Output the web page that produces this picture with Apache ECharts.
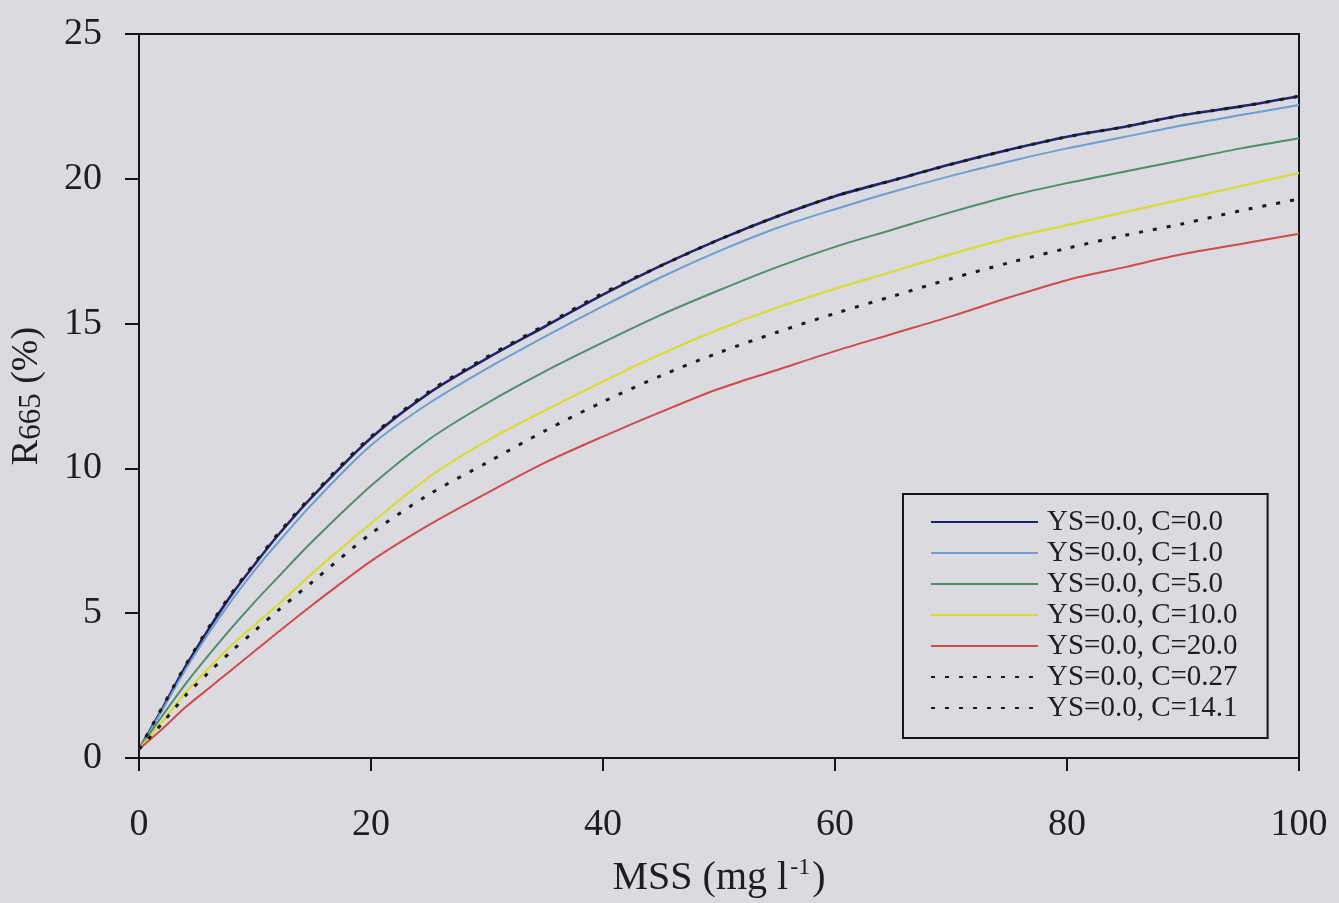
<!DOCTYPE html>
<html>
<head>
<meta charset="utf-8">
<script src="https://cdn.jsdelivr.net/npm/echarts@6/dist/echarts.min.js"></script>
<style>
html,body{margin:0;padding:0;background:#dadae0;}
#chart{width:1339px;height:903px;}
</style>
</head>
<body>
<div id="chart"></div>
<script>
// MSS (mg l-1) sample positions
const mss = [0, 2, 4, 6, 8, 10, 12, 15, 20, 25, 30, 35, 40, 45, 50, 55, 60, 65, 70, 75, 80, 85, 90, 95, 100];
// R665 (%) values
const rC00  = [0.3, 1.7, 3.15, 4.45, 5.65, 6.7, 7.7, 9.05, 11.05, 12.6, 13.8, 14.9, 16.0, 17.0, 17.9, 18.7, 19.4, 19.95, 20.5, 21.0, 21.45, 21.8, 22.2, 22.5, 22.85];
const rC10  = [0.3, 1.65, 3.05, 4.3, 5.45, 6.5, 7.45, 8.8, 10.8, 12.25, 13.45, 14.55, 15.6, 16.6, 17.5, 18.3, 18.95, 19.55, 20.1, 20.6, 21.05, 21.45, 21.85, 22.2, 22.55];
const rC50  = [0.3, 1.45, 2.55, 3.55, 4.5, 5.4, 6.25, 7.5, 9.4, 11.0, 12.25, 13.35, 14.35, 15.3, 16.15, 16.95, 17.65, 18.25, 18.85, 19.4, 19.85, 20.25, 20.65, 21.05, 21.4];
const rC100 = [0.3, 1.25, 2.25, 3.1, 3.9, 4.6, 5.3, 6.4, 8.1, 9.7, 10.95, 12.0, 13.0, 13.95, 14.8, 15.55, 16.2, 16.8, 17.4, 17.95, 18.4, 18.85, 19.3, 19.75, 20.2];
const rC200 = [0.3, 1.0, 1.75, 2.4, 3.05, 3.7, 4.35, 5.3, 6.8, 8.05, 9.15, 10.2, 11.1, 11.95, 12.75, 13.4, 14.05, 14.65, 15.25, 15.9, 16.5, 16.95, 17.4, 17.75, 18.1];
const rC027 = [0.3, 1.75, 3.2, 4.5, 5.7, 6.75, 7.75, 9.1, 11.1, 12.65, 13.85, 14.95, 16.05, 17.0, 17.9, 18.7, 19.4, 19.95, 20.5, 21.0, 21.45, 21.8, 22.2, 22.5, 22.85];
const rC141 = [0.3, 1.2, 2.15, 2.95, 3.7, 4.4, 5.1, 6.1, 7.75, 9.1, 10.2, 11.3, 12.3, 13.2, 14.0, 14.7, 15.35, 15.95, 16.55, 17.1, 17.6, 18.05, 18.45, 18.9, 19.3];

const seriesNames = ['YS=0.0, C=0.0', 'YS=0.0, C=1.0', 'YS=0.0, C=5.0', 'YS=0.0, C=10.0', 'YS=0.0, C=20.0', 'YS=0.0, C=0.27', 'YS=0.0, C=14.1'];
const xTicks = [0, 20, 40, 60, 80, 100];
const yTicks = [0, 5, 10, 15, 20, 25];

const FONT = 'Liberation Serif';
const seriesValues = [rC00, rC10, rC50, rC100, rC200, rC027, rC141];
const styles = [
  {color: '#22236b', width: 2.6, type: 'solid'},
  {color: '#6c9fd0', width: 2, type: 'solid'},
  {color: '#4f8d6c', width: 2, type: 'solid'},
  {color: '#d5dc38', width: 2.2, type: 'solid'},
  {color: '#cd4c4c', width: 2, type: 'solid'},
  {color: '#1a1a1a', width: 3, type: [4, 10]},
  {color: '#1a1a1a', width: 3, type: [4, 10]}
];

const series = seriesNames.map((name, i) => ({
  name: name,
  type: 'line',
  symbol: 'none',
  smooth: 0.3,
  animation: false,
  lineStyle: styles[i],
  itemStyle: {color: styles[i].color},
  data: mss.map((x, j) => [x, seriesValues[i][j]])
}));

const chart = echarts.init(document.getElementById('chart'), null, {renderer: 'canvas'});
chart.setOption({
  backgroundColor: '#dadae0',
  animation: false,
  grid: {
    left: 139, right: 40, top: 34, bottom: 145,
    show: true, borderColor: '#151515', borderWidth: 2,
    backgroundColor: 'transparent',
    outerBoundsMode: 'none'
  },
  legend: {
    data: seriesNames,
    orient: 'vertical',
    left: 903, top: 494,
    padding: [13, 30, 15, 27],
    borderColor: '#151515', borderWidth: 2,
    backgroundColor: 'transparent',
    itemWidth: 107, itemHeight: 12, itemGap: 1,
    itemStyle: {opacity: 0},
    textStyle: {fontFamily: FONT, fontSize: 29, color: '#1e1e1e', lineHeight: 30, padding: [0, 0, 0, 4]}
  },
  xAxis: {
    type: 'value',
    min: xTicks[0], max: xTicks[xTicks.length - 1], interval: xTicks[1] - xTicks[0],
    splitLine: {show: false},
    axisLine: {lineStyle: {color: '#151515', width: 2}},
    axisTick: {inside: false, length: 13, lineStyle: {color: '#151515', width: 2}},
    axisLabel: {fontFamily: FONT, fontSize: 38, color: '#1e1e1e', margin: 48},
    name: '{a|MSS (mg l}{s|-1}{a|)}',
    nameLocation: 'middle',
    nameGap: 98,
    nameTextStyle: {
      rich: {
        a: {fontFamily: FONT, fontSize: 40, color: '#1e1e1e', lineHeight: 44},
        s: {fontFamily: FONT, fontSize: 24, color: '#1e1e1e', verticalAlign: 'top', lineHeight: 44, padding: [0, 2, 16, 2]}
      }
    }
  },
  yAxis: {
    type: 'value',
    min: yTicks[0], max: yTicks[yTicks.length - 1], interval: yTicks[1] - yTicks[0],
    splitLine: {show: false},
    axisLine: {lineStyle: {color: '#151515', width: 2}},
    axisTick: {inside: false, length: 14, lineStyle: {color: '#151515', width: 2}},
    axisLabel: {fontFamily: FONT, fontSize: 38, color: '#1e1e1e', margin: 37},
    name: '{a|R}{b|665}{a| (%)}',
    nameLocation: 'middle',
    nameRotate: 90,
    nameGap: 92,
    nameTextStyle: {
      rich: {
        a: {fontFamily: FONT, fontSize: 38, color: '#1e1e1e', lineHeight: 40},
        b: {fontFamily: FONT, fontSize: 31, color: '#1e1e1e', lineHeight: 40, verticalAlign: 'bottom'}
      }
    }
  },
  series: series
});
</script>
</body>
</html>
